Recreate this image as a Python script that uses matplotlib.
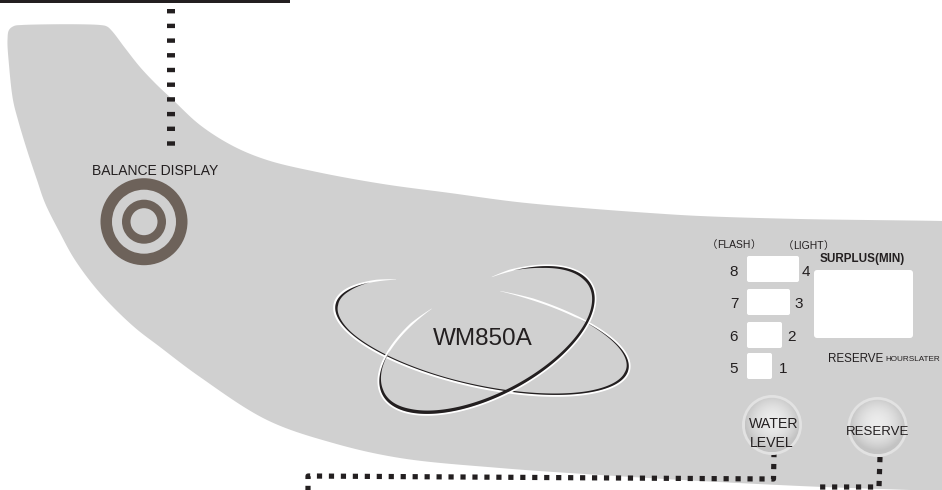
import numpy as np
import matplotlib
matplotlib.use("Agg")
import matplotlib.pyplot as plt
from matplotlib.patches import Polygon, Circle, Wedge, FancyBboxPatch, Rectangle
from matplotlib import font_manager

# ---------------- content (texts) ----------------
model_name = "WM850A"
balance_label = "BALANCE DISPLAY"
flash_label = ["（", "FLASH", "）"]
light_label = ["（", "LIGHT", "）"]
surplus_label = "SURPLUS(MIN)"
flash_digits = ["8", "7", "6", "5"]
light_digits = ["4", "3", "2", "1"]
reserve_label = "RESERVE"
hours_label = "HOURSLATER"
button_labels = ["WATER\nLEVEL", "RESERVE"]

# ---------------- style ----------------
GRAY = "#d0d0d0"
INK = "#231f20"
RING = "#6d625a"
W, H = 942, 490
SANS = "Liberation Sans"
CJK = "Noto Sans CJK SC"

fig = plt.figure(figsize=(W / 100, H / 100), dpi=100)
ax = fig.add_axes([0, 0, 1, 1])
ax.axis("off")
ax.set_xlim(0, W)
ax.set_ylim(H, 0)


def catmull_closed(pts, n=24):
    P = np.asarray(pts, float)
    N = len(P)
    out = []
    for i in range(N):
        p0, p1, p2, p3 = P[(i - 1) % N], P[i], P[(i + 1) % N], P[(i + 2) % N]
        t0 = 0.0
        t1 = t0 + np.linalg.norm(p1 - p0) ** 0.5
        t2 = t1 + np.linalg.norm(p2 - p1) ** 0.5
        t3 = t2 + np.linalg.norm(p3 - p2) ** 0.5
        t = np.linspace(t1, t2, n, endpoint=False)[:, None]
        A1 = (t1 - t) / (t1 - t0) * p0 + (t - t0) / (t1 - t0) * p1
        A2 = (t2 - t) / (t2 - t1) * p1 + (t - t1) / (t2 - t1) * p2
        A3 = (t3 - t) / (t3 - t2) * p2 + (t - t2) / (t3 - t2) * p3
        B1 = (t2 - t) / (t2 - t0) * A1 + (t - t0) / (t2 - t0) * A2
        B2 = (t3 - t) / (t3 - t1) * A2 + (t - t1) / (t3 - t1) * A3
        out.append((t2 - t) / (t2 - t1) * B1 + (t - t1) / (t2 - t1) * B2)
    return np.vstack(out)


# ---------------- gray panel ----------------
panel_outline = [
    (7.5, 40), (9, 30), (14, 26), (22, 25), (100, 25), (107, 26.5), (112, 31),
    (125, 48), (140, 67), (156, 84), (173, 100), (200, 125), (233, 146),
    (267, 160), (317, 172), (383, 184), (450, 193), (517, 202), (583, 208),
    (650, 213), (700, 216), (800, 219), (942, 221), (975, 222), (980, 400),
    (975, 492), (942, 491), (850, 488), (800, 486), (700, 481), (600, 475),
    (500, 468), (400, 458), (333, 443), (267, 420), (200, 377), (160, 347),
    (133, 326), (100, 293), (75, 260), (60, 233), (45, 203), (37, 180),
    (27, 150), (18, 120), (13, 100), (9, 65),
]
ax.add_patch(Polygon(catmull_closed(panel_outline), closed=True,
                     facecolor=GRAY, edgecolor="none", zorder=1))

# top black bar
ax.add_patch(Rectangle((0, 0), 290, 3.5, facecolor=INK, edgecolor="none", zorder=2))

# ---------------- dotted leader lines ----------------
ax.plot([171, 171], [9.3, 148], color=INK, lw=8 * 0.72,
        linestyle=(0, (4.4 / 8, 10.3 / 8)), solid_capstyle="butt",
        dash_capstyle="butt", zorder=3)
ax.plot([308, 308, 772, 773.5, 774], [492, 476, 479, 479, 454], color=INK,
        lw=5.2 * 0.72, linestyle=(0, (1.0, 1.3)), dash_capstyle="butt", zorder=3)
ax.plot([880, 879, 816], [457, 487, 487], color=INK,
        lw=5.2 * 0.72, linestyle=(0, (1.0, 1.3)), dash_capstyle="butt", zorder=3)

# ---------------- balance display ----------------
ax.text(155, 175, balance_label, ha="center", va="baseline",
        fontsize=10, color=INK, family=SANS, zorder=4)
ax.add_patch(Wedge((144, 221.7), 43.5, 0, 360, width=11.5, facecolor=RING,
                   edgecolor="none", zorder=4))
ax.add_patch(Wedge((144, 221.7), 22, 0, 360, width=8.5, facecolor=RING,
                   edgecolor="none", zorder=4))


# ---------------- orbit swooshes ----------------
def ellipse(c, a, b, th, tdeg):
    thr = np.radians(th)
    t = np.radians(tdeg)
    u, v = a * np.cos(t), b * np.sin(t)
    x = c[0] + u * np.cos(thr) - v * np.sin(thr)
    y = c[1] + u * np.sin(thr) + v * np.cos(thr)
    nu, nv = np.cos(t) / a, np.sin(t) / b
    nx = nu * np.cos(thr) - nv * np.sin(thr)
    ny = nu * np.sin(thr) + nv * np.cos(thr)
    nn = np.hypot(nx, ny)
    return x, y, nx / nn, ny / nn


def swoosh(c, a, b, th, t0, t1, white_keys, black_keys, z):
    t = np.linspace(t0, t1, 900)
    x, y, nx, ny = ellipse(c, a, b, th, t)
    wk = np.array(white_keys, float)
    bk = np.array(black_keys, float)
    wo = np.interp(t, wk[:, 0], wk[:, 1])
    wi = np.interp(t, bk[:, 0], bk[:, 1])
    ox, oy = x + nx * wo, y + ny * wo
    ax.fill(np.r_[x - nx * 0.3, ox[::-1]], np.r_[y - ny * 0.3, oy[::-1]],
            color="white", lw=0, zorder=z)
    ix, iy = x - nx * wi, y - ny * wi
    ax.fill(np.r_[x, ix[::-1]], np.r_[y, iy[::-1]], color=INK, lw=0, zorder=z + 0.1)


swoosh((482, 337), 150, 49, 12.6, -87, 230,
       [(-87, 0), (-74, 1.7), (200, 2.1), (220, 1.5), (230, 0)],
       [(-87, 0), (-55, 0), (-25, 1.1), (5, 2.6), (40, 1.6), (100, 1.0),
        (150, 1.2), (180, 2.6), (200, 1.6), (216, 0), (230, 0)], 5)
swoosh((487, 340), 118, 56, -27.7, -73.5, 253,
       [(-73.5, 0), (-64, 1.6), (240, 1.9), (253, 0)],
       [(-73.5, 0), (-62, 0), (-45, 1.8), (-10, 2.8), (30, 2.4), (90, 3.0),
        (150, 3.5), (185, 2.5), (205, 0.8), (220, 0), (253, 0)], 6)

ax.text(483, 345, model_name, ha="center", va="baseline", fontsize=17.5,
        color=INK, family=SANS, zorder=8)

# ---------------- indicator panel ----------------
renderer = fig.canvas.get_renderer()


def text_seq(xc, y, parts, size):
    """Place several text pieces side by side, centred on xc."""
    fams = [CJK, SANS, CJK]
    objs = [ax.text(0, y, s, ha="left", va="baseline", fontsize=size, color=INK,
                    family=f, zorder=8) for s, f in zip(parts, fams)]
    widths = [o.get_window_extent(renderer).width for o in objs]
    x = xc - sum(widths) / 2
    for o, w in zip(objs, widths):
        o.set_x(x)
        x += w


text_seq(733.5, 248, flash_label, 7.5)
text_seq(808, 249, light_label, 7.5)
ax.text(862, 262, surplus_label, ha="center", va="baseline", fontsize=8.4,
        fontweight="bold", color=INK, family=SANS, zorder=8)

box_left = 747
box_right = [799, 790, 782, 772]
box_top = [256, 289, 322, 353]
box_h = 26
left_x = 734
right_x = [805.5, 798.5, 792, 783]
baselines = [276, 308, 341, 373]
for i in range(4):
    ax.add_patch(FancyBboxPatch((box_left, box_top[i]), box_right[i] - box_left, box_h,
                                boxstyle="round,pad=0,rounding_size=2",
                                facecolor="white", edgecolor="none", zorder=7))
    ax.text(left_x, baselines[i], flash_digits[i], ha="center", va="baseline",
            fontsize=11, color=INK, family=SANS, zorder=8)
    ax.text(right_x[i], baselines[i], light_digits[i], ha="center", va="baseline",
            fontsize=11, color=INK, family=SANS, zorder=8)

ax.add_patch(FancyBboxPatch((814, 270), 99, 68,
                            boxstyle="round,pad=0,rounding_size=3",
                            facecolor="white", edgecolor="none", zorder=7))
ax.text(828, 361.7, reserve_label, ha="left", va="baseline", fontsize=8.4,
        color=INK, family=SANS, zorder=8)
ax.text(885, 361, hours_label, ha="left", va="baseline", fontsize=5.9,
        color=INK, family=SANS, zorder=8)


# ---------------- buttons ----------------
def button(cx, cy, r):
    ax.add_patch(Circle((cx, cy), r, facecolor="#e2e2e2", edgecolor="none", zorder=7))
    r2 = r - 2.8
    n = 240
    yy, xx = np.mgrid[-1:1:n * 1j, -1:1:n * 1j]
    rr = np.clip(np.sqrt(xx ** 2 + (yy + 0.12) ** 2), 0, 1)
    val = 0.925 - 0.16 * rr ** 2
    img = np.dstack([val, val, val])
    im = ax.imshow(img, extent=(cx - r2, cx + r2, cy + r2, cy - r2),
                   interpolation="bilinear", zorder=7.5)
    im.set_clip_path(Circle((cx, cy), r2, transform=ax.transData))


button(772, 425, 30)
button(877.5, 427, 30)

bsize = 10.2
water, level = button_labels[0].split("\n")
ax.text(774, 428.3, water, ha="center", va="baseline", fontsize=bsize,
        color=INK, family=SANS, zorder=9)
ax.text(772, 446.7, level, ha="center", va="baseline", fontsize=bsize,
        color=INK, family=SANS, zorder=9)
ax.text(878, 435, button_labels[1], ha="center", va="baseline", fontsize=bsize * 0.94,
        color=INK, family=SANS, zorder=9)

ax.set_aspect("auto")
ax.set_xlim(0, W)
ax.set_ylim(H, 0)
fig.savefig("out.png", dpi=100, facecolor="white")
